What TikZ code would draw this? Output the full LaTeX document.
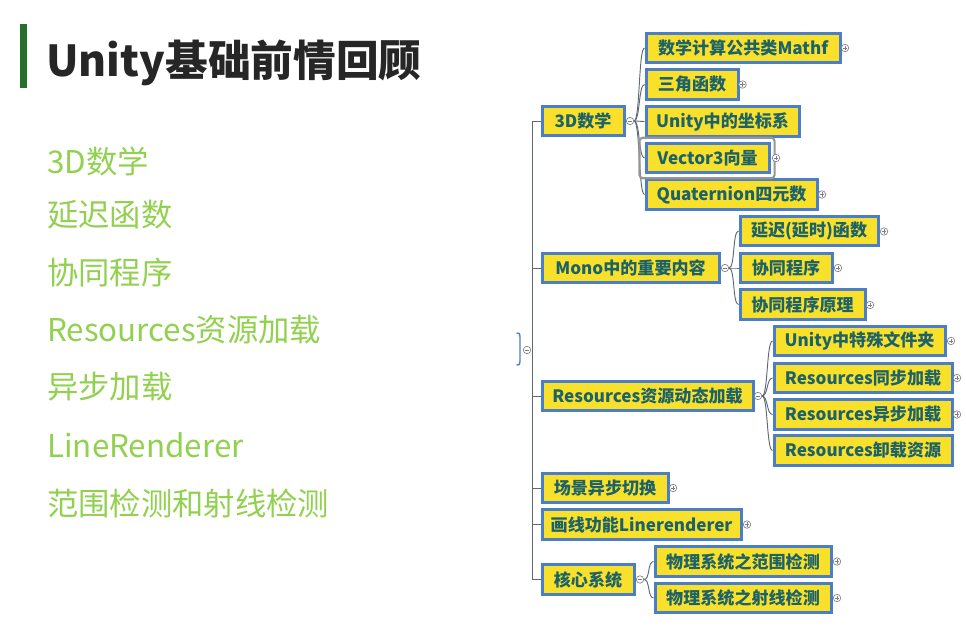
\documentclass[tikz,border=0pt]{standalone}
\usepackage{fontspec}
\setmainfont{Noto Sans CJK SC}
\usetikzlibrary{backgrounds}
\definecolor{boxblue}{RGB}{74,126,201}
\definecolor{boxyellow}{RGB}{249,224,42}
\definecolor{boxtext}{RGB}{28,98,106}
\definecolor{edgecol}{RGB}{95,105,115}
\definecolor{listgreen}{RGB}{146,208,80}
\definecolor{bargreen}{RGB}{38,112,44}
\definecolor{titlecol}{RGB}{38,38,38}
\definecolor{hlgray}{RGB}{150,150,150}
\tikzset{
  mbox/.style={draw=boxblue, line width=2.3pt, fill=boxyellow, text=boxtext,
    font=\fontsize{12.8}{14}\selectfont\bfseries, minimum height=22.1pt,
    inner xsep=2pt, inner ysep=0pt, anchor=west},
  conn/.style={draw=edgecol, line width=0.7pt},
  tog/.style={circle, draw=gray, fill=white, line width=0.5pt, minimum size=5.6pt, inner sep=0pt},
  expnd/.style={tog, path picture={\draw[gray, line width=0.5pt]
      ([xshift=-1.6pt]path picture bounding box.center) -- ([xshift=1.6pt]path picture bounding box.center)
      ([yshift=-1.6pt]path picture bounding box.center) -- ([yshift=1.6pt]path picture bounding box.center);}},
  clps/.style={tog, path picture={\draw[gray, line width=0.5pt]
      ([xshift=-1.6pt]path picture bounding box.center) -- ([xshift=1.6pt]path picture bounding box.center);}},
  listitem/.style={anchor=west, text=listgreen, font=\fontsize{23.5}{28}\selectfont, inner sep=0pt},
}
\begin{document}
\begin{tikzpicture}[x=0.75pt,y=-0.75pt]
\useasboundingbox (0,0) rectangle (966,635);
% title
\fill[bargreen] (20,24) rectangle (27,88);
\node[anchor=west, inner sep=0pt, font=\fontsize{32}{36}\selectfont\bfseries, text=titlecol] (title) at (46,63) {Unity基础前情回顾};
% list
\node[listitem] (l1) at (47,161.7) {3D数学};
\node[listitem] (l2) at (47,215) {延迟函数};
\node[listitem] (l3) at (47,273) {协同程序};
\node[listitem] (l4) at (47,330) {Resources资源加载};
\node[listitem] (l5) at (47,386.7) {异步加载};
\node[listitem] (l6) at (47,445) {LineRenderer};
\node[listitem] (l7) at (47,503) {范围检测和射线检测};
% main branches
\node[mbox, minimum width=61.5pt] (a) at (540.5,121) {3D数学};
\node[mbox, minimum width=132.75pt] (b) at (540.5,268) {Mono中的重要内容};
\node[mbox, minimum width=158.25pt] (c) at (540.5,396) {Resources资源动态加载};
\node[mbox, minimum width=94.5pt] (d) at (540.5,488) {场景异步切换};
\node[mbox, minimum width=149.25pt] (e) at (540.5,524.5) {画线功能Linerenderer};
\node[mbox, minimum width=69pt] (f) at (540.5,579.5) {核心系统};
% 3D children
\node[mbox, minimum width=145.5pt] (m1) at (644.5,48) {数学计算公共类Mathf};
\node[mbox, minimum width=69pt] (m2) at (644.5,84.5) {三角函数};
\node[mbox, minimum width=114.75pt] (m3) at (644.5,121.5) {Unity中的坐标系};
\node[mbox, minimum width=92.25pt] (m4) at (644.5,158) {Vector3向量};
\node[mbox, minimum width=128.25pt] (m5) at (644.5,194.5) {Quaternion四元数};
\draw[hlgray, line width=1.6pt, rounded corners=2.5pt] ([shift={(-5,-4)}]m4.north west) rectangle ([shift={(4,4)}]m4.south east);
% Mono children
\node[mbox, minimum width=103.5pt] (b1) at (738.5,231) {延迟(延时)函数};
\node[mbox, minimum width=69pt] (b2) at (738.5,268) {协同程序};
\node[mbox, minimum width=93.75pt] (b3) at (738.5,304.5) {协同程序原理};
% Resources children
\node[mbox, minimum width=128.25pt] (c1) at (772.5,341) {Unity中特殊文件夹};
\node[mbox, minimum width=133.5pt] (c2) at (772.5,378) {Resources同步加载};
\node[mbox, minimum width=133.5pt] (c3) at (772.5,414.5) {Resources异步加载};
\node[mbox, minimum width=133.5pt] (c4) at (772.5,450.5) {Resources卸载资源};
% core children
\node[mbox, minimum width=132pt] (f1) at (653.5,561.5) {物理系统之范围检测};
\node[mbox, minimum width=132pt] (f2) at (653.5,598) {物理系统之射线检测};
% toggles
\node[clps] (ac) at (630,121) {};
\node[clps] (bc) at (725,268) {};
\node[clps] (cc) at (758,396) {};
\node[clps] (fc) at (640,579.5) {};
\node[clps] (rc) at (527,350) {};
\node[expnd] (m1x) at (845,48) {};
\node[expnd] (m2x) at (742.5,84.5) {};
\node[expnd] (m4x) at (776,158) {};
\node[expnd] (m5x) at (822,194.5) {};
\node[expnd] (b1x) at (884,231.5) {};
\node[expnd] (b2x) at (838,268) {};
\node[expnd] (b3x) at (870,305) {};
\node[expnd] (c1x) at (951,341) {};
\node[expnd] (c2x) at (957,378) {};
\node[expnd] (c3x) at (957,414.5) {};
\node[expnd] (dx) at (673,488) {};
\node[expnd] (ex) at (747,524.5) {};
\node[expnd] (f1x) at (837,561.5) {};
\node[expnd] (f2x) at (837,598) {};
% root bracket
\draw[boxblue, line width=1pt] (516.5,333) .. controls (519.6,333) .. (520,337) -- (520,361) .. controls (519.6,365) .. (516.5,365);
\coordinate (top) at (532,121);
\coordinate (bot) at (532,579.5);
\begin{scope}[on background layer]
  \draw[conn] (a.west) -- (top) -- (bot) -- (f.west);
  \foreach \n in {b,c,d,e} \draw[conn] (\n.west) -- (\n.west -| top);
  \foreach \p/\q in {a/ac,b/bc,c/cc,f/fc} \draw[conn] (\p.east) -- (\q.west);
  \foreach \q in {m1,m2,m3,m4,m5} \draw[conn] (ac.east) .. controls +(6,0) and +(-6,0) .. (\q.west);
  \foreach \q in {b1,b2,b3} \draw[conn] (bc.east) .. controls +(6,0) and +(-6,0) .. (\q.west);
  \foreach \q in {c1,c2,c3,c4} \draw[conn] (cc.east) .. controls +(6,0) and +(-6,0) .. (\q.west);
  \foreach \q in {f1,f2} \draw[conn] (fc.east) .. controls +(6,0) and +(-6,0) .. (\q.west);
\end{scope}
\end{tikzpicture}
\end{document}
